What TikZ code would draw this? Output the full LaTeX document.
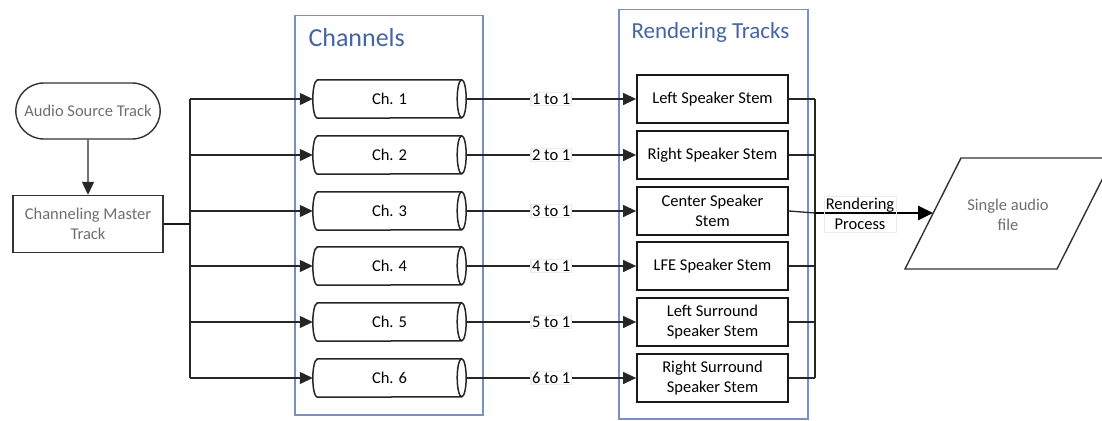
\documentclass[tikz,border=0pt]{standalone}
\usepackage{fontspec}
\setmainfont{Carlito}
\usetikzlibrary{shapes.misc,arrows.meta}
\definecolor{boxblue}{RGB}{120,145,190}
\definecolor{titleblue}{RGB}{70,100,160}
\definecolor{graytext}{RGB}{110,110,110}
\begin{document}
\begin{tikzpicture}[x=1pt,y=-1pt,
  sm/.style={font=\fontsize{16.5}{20}\selectfont},
  ln/.style={line width=1.3pt, draw=black!85},
  arr/.style={ln,-{Triangle[length=13pt,width=12pt]}},
  stembox/.style={draw=black!90,line width=1.8pt,minimum width=151pt,minimum height=48pt,align=center,inner sep=1pt,sm,fill=white},
  chan/.style={rectangle,minimum width=153pt,minimum height=38pt,inner sep=0pt,sm},
  cyl/.style={draw=black!85,line width=1.5pt,fill=white},
  group/.style={draw=boxblue,line width=1.5pt,anchor=north west,inner sep=0pt},
  ratio/.style={sm,fill=white,draw=black!8,inner sep=1pt},
  grp/.style={draw=black!80,line width=1.4pt,sm,text=graytext,align=center}
]
\useasboundingbox (0,0) rectangle (1102,420);
% group boxes
\node[group,minimum width=188pt,minimum height=399pt] (chgrp) at (294,15) {};
\node[group,minimum width=189pt,minimum height=409pt] (rdgrp) at (618,9) {};
\node[anchor=west,text=titleblue,font=\fontsize{26}{30}\selectfont] (chtitle) at (305,38) {Channels};
\node[anchor=west,text=titleblue,font=\fontsize{23}{27}\selectfont] (rdtitle) at (628,32) {Rendering Tracks};
% source side
\node[grp,rounded rectangle,minimum width=151pt,minimum height=56pt] (src) at (88,111) {Audio Source Track};
\node[grp,rectangle,minimum width=150pt,minimum height=57pt] (master) at (88,224) {Channeling Master\\Track};
\draw[arr] (src) -- (master);
\coordinate (tr) at (190,224);
\coordinate (trtop) at (190,99);
\coordinate (trbot) at (190,378);
\draw[line width=2.2pt,draw=black!90] (master.east) -- (tr);
\draw[line width=1.8pt,draw=black!85] (trtop) -- (trbot);
% channels
\foreach \i/\y in {1/99,2/155,3/211,4/266,5/322,6/378}{
  \coordinate (cc\i) at (389.5,\y);
}
\foreach \i in {1,...,6}{
  \path (cc\i) node[chan] (ch\i) {};
  \draw[cyl] ([xshift=4.5pt]ch\i.north west) -- ([xshift=-4.5pt]ch\i.north east)
    arc[start angle=90,end angle=-90,x radius=4.5pt,y radius=19pt]
    -- ([xshift=4.5pt]ch\i.south west)
    arc[start angle=270,end angle=90,x radius=4.5pt,y radius=19pt] -- cycle;
  \draw[cyl,fill=none] ([xshift=-4.5pt]ch\i.north east)
    arc[start angle=90,end angle=270,x radius=4.5pt,y radius=19pt];
  \node[sm] (chl\i) at (ch\i) {Ch. \i};
  \draw[arr] (tr |- ch\i.west) -- (ch\i.west);
}
% stems
\node[stembox] (st1) at (712.5,99) {Left Speaker Stem};
\node[stembox] (st2) at (712.5,155) {Right Speaker Stem};
\node[stembox] (st3) at (712.5,211) {Center Speaker\\Stem};
\node[stembox] (st4) at (712.5,266) {LFE Speaker Stem};
\node[stembox] (st5) at (712.5,322) {Left Surround\\Speaker Stem};
\node[stembox] (st6) at (712.5,378) {Right Surround\\Speaker Stem};
\foreach \i in {1,...,6}{
  \draw[arr] (ch\i.east) -- node[ratio] {\i{} to 1} (st\i.west);
}
% merge
\coordinate (mg) at (815,213);
\foreach \i in {1,2,4,5,6}{
  \draw[ln] (st\i.east) -- (mg |- st\i.east);
}
\draw[ln] (mg |- st1.east) -- (mg |- st6.east);
\draw[ln] (st3.east) -- (mg);
% output
\draw[draw=black!80,line width=1.4pt] (905,269) -- (1057,269) -- (1113,158) -- (961,158) -- cycle;
\coordinate (pin) at (933,213);
\node[sm,text=graytext,align=center] (outtxt) at (1008,215) {Single audio\\file};
\draw[line width=2.6pt,-{Triangle[length=15pt,width=14pt]}] (mg) -- (pin);
\node[sm,draw=black!8,align=center,inner sep=2pt] (rp) at (860,214) {Rendering\\Process};
\end{tikzpicture}
\end{document}
